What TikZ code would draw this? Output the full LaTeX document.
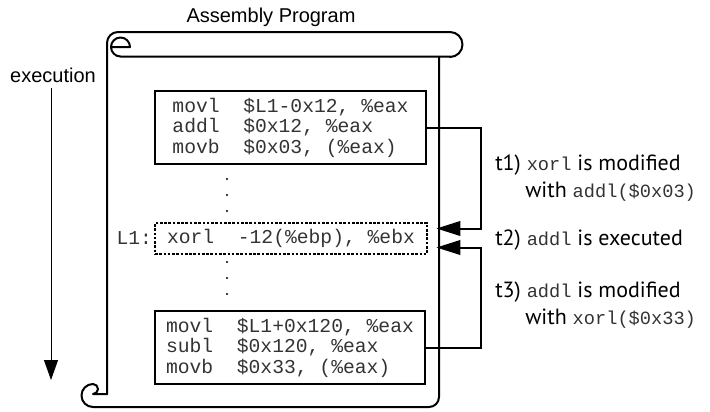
\documentclass[tikz,border=0pt]{standalone}
\usepackage{fontspec}
\setmainfont{Liberation Sans}
\newfontfamily\codefont{Liberation Mono}
\newfontfamily\notefont{PT Sans}
\usetikzlibrary{arrows.meta,calc}
\definecolor{ink}{gray}{0.2}
\newcommand\asm[1]{{\codefont\fontsize{14}{14}\selectfont\color{ink}#1}}

\begin{document}
\begin{tikzpicture}[x=0.75pt,y=-0.75pt,
  scroll/.style={line width=1.5pt, line join=round, line cap=round},
  code/.style={font=\codefont\fontsize{14.75}{15.4}\selectfont, text=ink, inner sep=0pt},
  codebox/.style={code, draw=black, line width=1.5pt, minimum width=203pt,
    minimum height=54.75pt, align=left},
  marked/.style={code, draw=black, line width=2.2pt, dash pattern=on 2pt off 1.2pt,
    minimum width=204pt, minimum height=23.25pt},
  note/.style={font=\notefont\fontsize{16.5}{20}\selectfont, align=left,
    inner sep=0pt, anchor=west},
  title/.style={font=\fontsize{15}{17}\selectfont, inner sep=0pt},
  link/.style={line width=1.5pt, -{Triangle[length=18pt,width=11pt]}},
  flow/.style={line width=0.75pt, -{Triangle[length=15pt,width=10.5pt]}}
]
\useasboundingbox (0,0) rectangle (710,411);

% the scroll: rolled band on top, sheet below
\draw[scroll] (450,32) -- (118,32) arc[start angle=-90, end angle=-180, radius=11]
  -- (107,394);
\draw[scroll] (450,32) arc[start angle=-90, end angle=90, radius=12.5];
\draw[scroll] (111,47) -- (130,47) arc[start angle=0, end angle=-270, radius=9.5]
  -- (450,56.5);
\draw[scroll] (439,57) -- (439,397) arc[start angle=0, end angle=90, radius=10]
  -- (93,407) arc[start angle=90, end angle=270, radius=11.5]
  arc[start angle=-90, end angle=90, radius=5] -- (107,394);

% titles
\node[title] (prog) at (271,17) {Assembly Program};
\node[title] (exec) at (53,75) {execution};
\coordinate (execend) at (51,380);
\draw[flow] (51,88) -- (execend);

% code blocks
\node[codebox] (first) at (290.5,127.5) {movl\ \ \$L1-0x12, \%eax\\addl\ \ \$0x12, \%eax\\movb\ \ \$0x03, (\%eax)};
\node[marked] (xorl) at (291,238.5) {xorl\ \ -12(\%ebp), \%ebx};
\node[code, anchor=east] (lbl) at ([xshift=-1pt]xorl.west) {L1:};
\node[codebox] (last) at (290,347.5) {movl\ \ \$L1+0x120, \%eax\\subl\ \ \$0x120, \%eax\\movb\ \ \$0x33, (\%eax)};

% elided instructions
\foreach \y in {179,195,211,262,278,294}
  \fill (227,\y) circle (1.1);

% self-modification links
\draw[link] (first.east) -- ++(54,0) |- ($(xorl.east)+(8,-10)$);
\draw[link] (last.east) -- ++(55,0) |- ($(xorl.east)+(8,9)$);

% step descriptions
\node[note] (t1) at (495,178) {t1) \asm{xorl} is modified\\\hspace*{22.5pt}with \asm{addl(\$0x03)}};
\node[note] (t2) at (495,240) {t2) \asm{addl} is executed};
\node[note] (t3) at (495,305) {t3) \asm{addl} is modified\\\hspace*{22.5pt}with \asm{xorl(\$0x33)}};
\end{tikzpicture}
\end{document}
